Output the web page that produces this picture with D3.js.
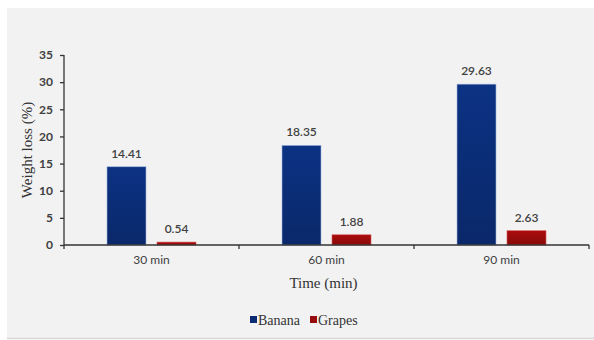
<!DOCTYPE html>
<html>
<head>
<meta charset="utf-8">
<script src="https://cdn.jsdelivr.net/npm/d3@7"></script>
<style>
  html, body { margin: 0; padding: 0; background: #ffffff; }
  svg { display: block; }
</style>
</head>
<body>
<svg id="chart" width="594" height="340"></svg>
<script>
// Weight loss (%) after drying time, per fruit
const categories = ["30 min", "60 min", "90 min"];
const seriesNames = ["Banana", "Grapes"];
const banana = [14.41, 18.35, 29.63];
const grapes = [0.54, 1.88, 2.63];
const yTicks = [0, 5, 10, 15, 20, 25, 30, 35];
const colors = ["#0b2c74", "#960b0b"];

const svg = d3.select("#chart");

// panel background
svg.append("rect")
  .attr("x", 7).attr("y", 8)
  .attr("width", 587).attr("height", 330)
  .attr("fill", "#f2f2f2");
svg.append("line")
  .attr("x1", 7).attr("x2", 594).attr("y1", 338.5).attr("y2", 338.5)
  .attr("stroke", "#d6d6d6").attr("stroke-width", 1.5);

const plot = { left: 64, right: 589, top: 55, bottom: 245 };

const x = d3.scaleBand()
  .domain(categories)
  .range([plot.left, plot.right])
  .paddingInner(0).paddingOuter(0);

const xSub = d3.scaleBand()
  .domain(seriesNames)
  .range([0, x.bandwidth()])
  .paddingInner(0.22)
  .paddingOuter(0.86);

const y = d3.scaleLinear().domain([0, 35]).range([plot.bottom, plot.top]);

// gradients for the bars
const defs = svg.append("defs");
function grad(id, c) {
  const g = defs.append("linearGradient").attr("id", id)
    .attr("x1", 0).attr("x2", 0).attr("y1", 0).attr("y2", 1);
  g.append("stop").attr("offset", "0%").attr("stop-color", d3.color(c).brighter(0.35));
  g.append("stop").attr("offset", "100%").attr("stop-color", d3.color(c).darker(0.25));
}
grad("g0", colors[0]);
grad("g1", colors[1]);

const rows = categories.map((c, i) => ({ cat: c, values: [banana[i], grapes[i]] }));

const groups = svg.append("g").selectAll("g")
  .data(rows).join("g")
  .attr("transform", d => `translate(${x(d.cat)},0)`);

groups.selectAll("rect")
  .data(d => d.values.map((v, j) => ({ name: seriesNames[j], v, j })))
  .join("rect")
  .attr("x", d => xSub(d.name))
  .attr("y", d => y(d.v))
  .attr("width", xSub.bandwidth())
  .attr("height", d => y(0) - y(d.v))
  .attr("fill", d => `url(#g${d.j})`)
  .attr("stroke", d => d.j === 0 ? "#9fb4dc" : "#d65a5a")
  .attr("stroke-width", 0.6);

groups.selectAll("text.val")
  .data(d => d.values.map((v, j) => ({ name: seriesNames[j], v, j })))
  .join("text")
  .attr("class", "val")
  .attr("x", d => xSub(d.name) + xSub.bandwidth() / 2)
  .attr("y", d => y(d.v) - 9)
  .attr("text-anchor", "middle")
  .attr("font-family", "Lato, 'Open Sans', sans-serif")
  .attr("font-size", 12)
  .attr("font-weight", 600)
  .attr("fill", "#404040")
  .text(d => d.v.toFixed(2));

// y axis
const yAxis = svg.append("g")
  .attr("transform", `translate(${plot.left},0)`)
  .call(d3.axisLeft(y).tickValues(yTicks).tickSize(4).tickPadding(7));
yAxis.select(".domain").attr("stroke", "#333").attr("stroke-width", 1.3)
  .attr("d", `M0,${plot.bottom}V${plot.top}`);
yAxis.selectAll(".tick line").attr("stroke", "#333").attr("stroke-width", 1.3);
yAxis.selectAll(".tick text")
  .attr("font-family", "Lato, 'Open Sans', sans-serif")
  .attr("font-size", 12).attr("font-weight", 700)
  .attr("fill", "#404040");

// x axis
const xAxis = svg.append("g")
  .attr("transform", `translate(0,${plot.bottom})`)
  .call(d3.axisBottom(x).tickSize(0).tickPadding(10));
xAxis.select(".domain").attr("stroke", "#333").attr("stroke-width", 1.3)
  .attr("d", `M${plot.left},0H${plot.right}`);
xAxis.selectAll(".tick text")
  .attr("font-family", "Lato, 'Open Sans', sans-serif")
  .attr("font-size", 12)
  .attr("fill", "#404040");
// boundary ticks between categories
const bounds = categories.map(c => x(c)).concat([plot.right]);
xAxis.selectAll("line.bound").data(bounds).join("line")
  .attr("class", "bound")
  .attr("x1", d => d).attr("x2", d => d)
  .attr("y1", 0).attr("y2", 4)
  .attr("stroke", "#333").attr("stroke-width", 1.3);

// axis titles
svg.append("text")
  .attr("x", (plot.left + plot.right) / 2 - 3)
  .attr("y", 288)
  .attr("text-anchor", "middle")
  .attr("font-family", "'Liberation Serif', 'DejaVu Serif', serif")
  .attr("font-size", 15)
  .attr("fill", "#333")
  .text("Time (min)");

svg.append("text")
  .attr("transform", "translate(32,150) rotate(-90)")
  .attr("text-anchor", "middle")
  .attr("font-family", "'Liberation Serif', 'DejaVu Serif', serif")
  .attr("font-size", 15)
  .attr("fill", "#333")
  .text("Weight loss (%)");

// legend
const legend = svg.append("g").attr("transform", "translate(250,320)");
const legendX = [0, 60];
seriesNames.forEach((name, i) => {
  const g = legend.append("g").attr("transform", `translate(${legendX[i]},0)`);
  g.append("rect").attr("x", 0).attr("y", -4).attr("width", 7).attr("height", 7)
    .attr("fill", colors[i]);
  g.append("text").attr("x", 8).attr("y", 4.5)
    .attr("font-family", "'Liberation Serif', 'DejaVu Serif', serif")
    .attr("font-size", 14)
    .attr("fill", "#333")
    .text(name);
});
</script>
</body>
</html>
